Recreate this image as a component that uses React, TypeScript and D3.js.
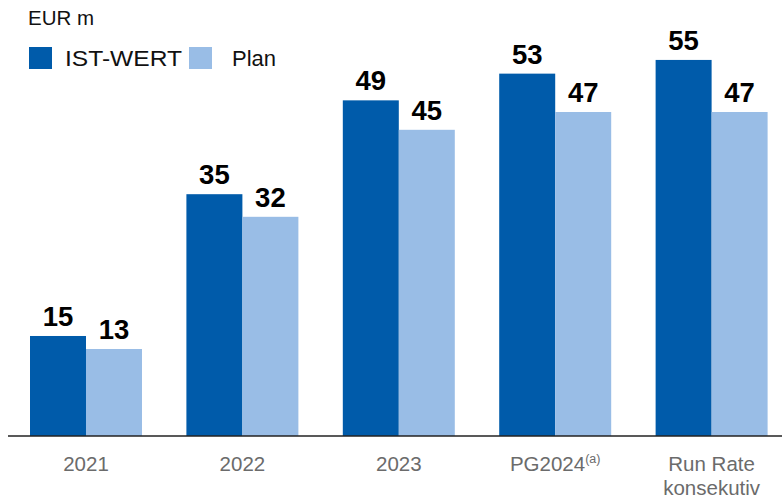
import React from "react";
import * as d3 from "d3";

const categories = ["2021", "2022", "2023", "PG2024", "Run Rate konsekutiv"];
const categoryLines: string[][] = [["2021"], ["2022"], ["2023"], ["PG2024"], ["Run Rate", "konsekutiv"]];
const istValues = [14.6, 35.3, 49.0, 52.9, 54.9];
const planValues = [12.7, 32.0, 44.7, 47.3, 47.3];
const seriesNames = ["IST-WERT", "Plan"];
const seriesColors = ["#005BAA", "#99BDE6"];
const unitLabel = "EUR m";

const W = 782;
const H = 499;
const baseY = 436;

export default function App() {
  const x = d3
    .scaleBand<string>()
    .domain(categories)
    .range([30, 767.6])
    .paddingInner(0.284)
    .paddingOuter(0);
  const x1 = d3.scaleBand<string>().domain(seriesNames).range([0, x.bandwidth()]);
  const y = d3.scaleLinear().domain([0, 60]).range([baseY, baseY - 60 * 6.85]);
  const fmt = d3.format(".0f");
  const series = [istValues, planValues];
  const font = "Liberation Sans, Arial, sans-serif";

  return (
    <div style={{ position: "absolute", left: 0, top: 0 }}>
      <svg width={W} height={H} style={{ display: "block", background: "#fff" }} fontFamily={font}>
        <text x={28} y={25} fontSize={20.5} fill="#111">{unitLabel}</text>
        {/* legend */}
        <rect x={29} y={47} width={23} height={22} fill={seriesColors[0]} />
        <text x={65} y={65.5} fontSize={22} fill="#111" textLength={117} lengthAdjust="spacingAndGlyphs">{seriesNames[0]}</text>
        <rect x={189} y={47} width={23} height={22} fill={seriesColors[1]} />
        <text x={232} y={65.5} fontSize={22} fill="#111">{seriesNames[1]}</text>

        {categories.map((c, i) => (
          <g key={c} transform={`translate(${x(c)},0)`}>
            {series.map((vals, s) => {
              const bx = x1(seriesNames[s])!;
              const bw = x1.bandwidth();
              const top = y(vals[i]);
              return (
                <g key={s}>
                  <rect x={bx} y={top} width={bw} height={baseY - top} fill={seriesColors[s]} />
                  <text
                    x={bx + bw / 2}
                    y={top - 10}
                    textAnchor="middle"
                    fontSize={27.5}
                    fontWeight="bold"
                    fill="#000"
                  >
                    {fmt(vals[i])}
                  </text>
                </g>
              );
            })}
            <text x={x.bandwidth() / 2} y={471} textAnchor="middle" fontSize={20.5} fill="#6b6b6b">
              {categoryLines[i].map((ln, k) => (
                <tspan key={k} x={x.bandwidth() / 2} dy={k === 0 ? 0 : 24}>
                  {ln}
                  {c === "PG2024" && k === 0 ? (
                    <tspan fontSize={12.5} dy={-8}>(a)</tspan>
                  ) : null}
                </tspan>
              ))}
            </text>
          </g>
        ))}
        <line x1={8} x2={782} y1={baseY} y2={baseY} stroke="#222" strokeWidth={1.5} />
      </svg>
    </div>
  );
}
